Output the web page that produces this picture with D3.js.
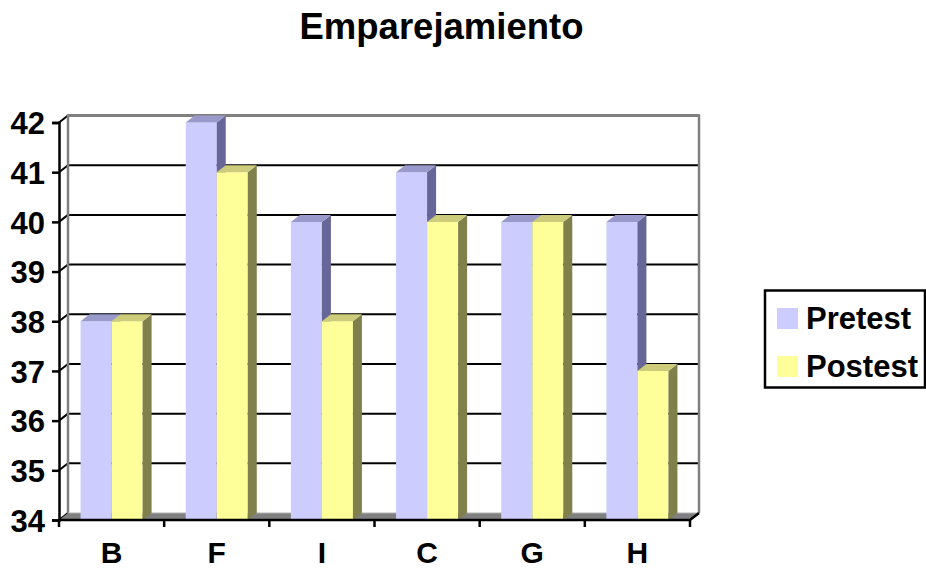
<!DOCTYPE html>
<html>
<head>
<meta charset="utf-8">
<script src="https://cdn.jsdelivr.net/npm/d3@7"></script>
<style>
  body { margin: 0; background: #fff; }
  text { font-family: Arial, "Liberation Sans", sans-serif; font-weight: bold; fill: #000; }
</style>
</head>
<body>
<div id="chart"></div>
<script>
const categories = ['B', 'F', 'I', 'C', 'G', 'H'];
const series = ['Pretest', 'Postest'];
const pretest = [38, 42, 40, 41, 40, 40];
const postest = [38, 41, 38, 40, 40, 37];
const yTicks = [34, 35, 36, 37, 38, 39, 40, 41, 42];

const width = 926;
const height = 570;
const depth = { x: 9, y: -7 };
const plot = { left: 59, right: 690, top: 122.5, bottom: 520 };

const colors = {
  Pretest: { front: '#ccccff', side: '#666699', top: '#9999cc' },
  Postest: { front: '#ffff99', side: '#80804d', top: '#cccc7a' }
};

const values = { Pretest: pretest, Postest: postest };

const svg = d3
  .select('#chart')
  .append('svg')
  .attr('width', width)
  .attr('height', height);

const x = d3.scaleBand().domain(categories).range([plot.left, plot.right]);
const bw = x.bandwidth();
const groupPad = bw * 0.205;
const xs = d3.scaleBand().domain(series).range([groupPad, bw - groupPad]);
const y = d3.scaleLinear().domain([34, 42]).range([plot.bottom, plot.top]);

// back wall
const backLeft = plot.left + depth.x;
const backRight = plot.right + depth.x;

svg
  .append('g')
  .selectAll('line')
  .data(yTicks.slice(1))
  .join('line')
  .attr('x1', backLeft)
  .attr('x2', backRight)
  .attr('y1', d => y(d) + depth.y)
  .attr('y2', d => y(d) + depth.y)
  .attr('stroke', '#000')
  .attr('stroke-width', 2);

svg
  .append('g')
  .selectAll('line')
  .data(yTicks)
  .join('line')
  .attr('x1', plot.left)
  .attr('x2', backLeft)
  .attr('y1', d => y(d))
  .attr('y2', d => y(d) + depth.y)
  .attr('stroke', '#000')
  .attr('stroke-width', 2);

svg
  .append('path')
  .attr(
    'd',
    `M${backLeft},${y(34) + depth.y}V${y(42) + depth.y}H${backRight}V${y(34) + depth.y}`
  )
  .attr('fill', 'none')
  .attr('stroke', '#808080')
  .attr('stroke-width', 2.5);

// floor
svg
  .append('path')
  .attr(
    'd',
    `M${plot.left},${y(34)}L${backLeft},${y(34) + depth.y}H${backRight}L${plot.right},${y(34)}Z`
  )
  .attr('fill', '#808080');

svg
  .append('line')
  .attr('x1', backLeft)
  .attr('x2', backRight)
  .attr('y1', y(34) + depth.y)
  .attr('y2', y(34) + depth.y)
  .attr('stroke', '#b0b0b0')
  .attr('stroke-width', 1);

// bars
const bars = [];
categories.forEach((c, i) => {
  series.forEach(s => {
    bars.push({ cat: c, series: s, value: values[s][i] });
  });
});

const bar = svg
  .append('g')
  .selectAll('g')
  .data(bars)
  .join('g');

const x0 = d => x(d.cat) + xs(d.series);
const x1 = d => x(d.cat) + xs(d.series) + xs.bandwidth();

bar
  .append('path')
  .attr('fill', d => colors[d.series].front)
  .attr('d', d => `M${x0(d)},${y(34)}V${y(d.value)}H${x1(d)}V${y(34)}Z`);

bar
  .append('path')
  .attr('fill', d => colors[d.series].side)
  .attr(
    'd',
    d =>
      `M${x1(d)},${y(34)}V${y(d.value)}l${depth.x},${depth.y}V${y(34) + depth.y}Z`
  );

bar
  .append('path')
  .attr('fill', d => colors[d.series].top)
  .attr(
    'd',
    d =>
      `M${x0(d)},${y(d.value)}l${depth.x},${depth.y}H${x1(d) + depth.x}l${-depth.x},${-depth.y}Z`
  );

// axes
svg
  .append('g')
  .attr('transform', `translate(${plot.left},0)`)
  .call(
    d3
      .axisLeft(y)
      .tickValues(yTicks)
      .tickSize(7)
      .tickPadding(7)
      .tickFormat(d3.format('d'))
  )
  .call(g => g.select('.domain').attr('stroke-width', 2.5))
  .call(g => g.selectAll('.tick line').attr('stroke-width', 2.5))
  .call(g =>
    g
      .selectAll('.tick text')
      .attr('font-size', 31)
      .attr('font-family', 'Arial, "Liberation Sans", sans-serif')
      .attr('font-weight', 'bold')
      .attr('dy', '0.36em')
  );

svg
  .append('g')
  .selectAll('line')
  .data(d3.range(categories.length + 1))
  .join('line')
  .attr('x1', i => plot.left + i * bw)
  .attr('x2', i => plot.left + i * bw)
  .attr('y1', plot.bottom)
  .attr('y2', plot.bottom + 7)
  .attr('stroke', '#000')
  .attr('stroke-width', 2.5);

svg
  .append('path')
  .attr(
    'd',
    `M${plot.left},${plot.bottom}H${plot.right}l${depth.x},${depth.y}`
  )
  .attr('fill', 'none')
  .attr('stroke', '#000')
  .attr('stroke-width', 2.5);

svg
  .append('g')
  .selectAll('text')
  .data(categories)
  .join('text')
  .attr('x', d => x(d) + bw / 2)
  .attr('y', 563)
  .attr('text-anchor', 'middle')
  .attr('font-size', 30)
  .text(d => d);

// title
svg
  .append('text')
  .attr('x', 441.5)
  .attr('y', 38.5)
  .attr('text-anchor', 'middle')
  .attr('font-size', 36.5)
  .text('Emparejamiento');

// legend
const legend = svg.append('g');

legend
  .append('rect')
  .attr('x', 765)
  .attr('y', 290.5)
  .attr('width', 160)
  .attr('height', 97)
  .attr('fill', '#fff')
  .attr('stroke', '#000')
  .attr('stroke-width', 2.5);

const item = legend
  .selectAll('g')
  .data(series)
  .join('g')
  .attr('transform', (d, i) => `translate(777,${308 + i * 48})`);

item
  .append('rect')
  .attr('width', 21)
  .attr('height', 21)
  .attr('fill', d => colors[d].front);

item
  .append('text')
  .attr('x', 29)
  .attr('y', 20.5)
  .attr('font-size', 31)
  .text(d => d);
</script>
</body>
</html>
